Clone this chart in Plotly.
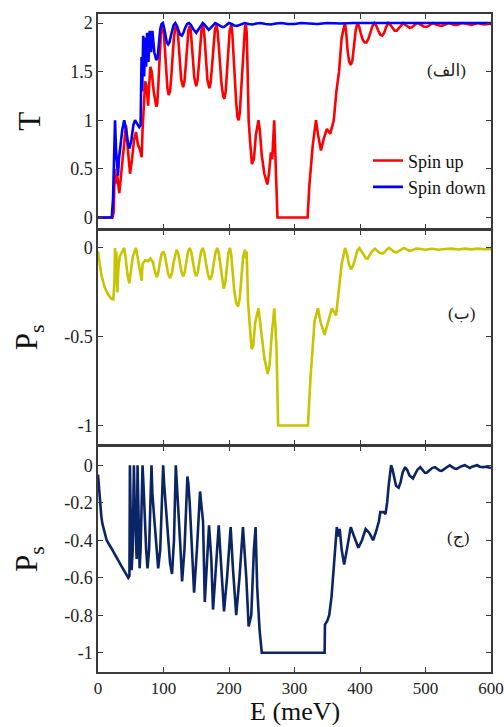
import plotly.graph_objects as go

# ---------------- data ----------------
E_up = [0, 22, 24, 25.5, 27, 29, 32.5, 36, 40, 42.7, 45, 48.9, 52, 55, 58, 61, 64, 66.7, 68, 70, 72, 74, 76.5, 78, 80, 82, 85, 89,
        90.5, 92, 94, 96, 97.5, 99, 100.5, 102, 104, 106, 108, 110, 112, 114, 116, 118.5, 120, 121.5, 123, 125, 127, 130,
        132, 134, 136, 138, 140, 141.5, 143, 145, 147, 150, 152, 154, 156, 158, 160, 161.5, 163, 165, 167, 170,
        172, 174, 176, 178.5, 181, 182.5, 184, 186, 188.5, 191, 193, 195, 197, 199, 201, 203.5, 205, 206.5, 208.5, 211,
        213, 214.7, 216.5, 218.5, 220.5, 222.5, 224.5, 226, 227, 228.5, 230, 232, 235, 238, 241, 245, 247, 250, 254,
        258.5, 261, 264, 266, 269, 271, 273, 274, 320, 322.7, 327.8, 332.8, 336, 340.4, 345, 349.5, 354.5, 360, 364,
        368, 372, 375, 377, 379, 381, 383.5, 386, 388.5, 391, 393.5, 396, 398.5, 401, 404, 407, 410, 413, 416, 419,
        422, 425, 428, 431, 434, 437, 440, 443, 446.5, 450, 453, 456, 459.5, 463, 466, 469.5, 473, 476, 479, 482.5,
        486, 489, 493, 497, 501, 505, 509, 512, 516, 520, 524, 528, 532, 536, 540, 544, 548, 552, 556, 560, 565, 570,
        575, 580, 585, 590, 595, 600]
T_up = [0, 0, 0.05, 0.5, 0.35, 0.45, 0.25, 0.5, 0.8, 0.95, 0.75, 0.45, 0.6, 0.8, 0.88, 0.75, 0.7, 0.62, 0.9, 1.25, 1.4, 1.35, 1.15, 1.35, 1.55, 1.5, 1.3, 1.14,
        1.17, 1.35, 1.65, 1.88, 1.96, 1.97, 1.9, 1.72, 1.5, 1.33, 1.26, 1.3, 1.46, 1.68, 1.86, 1.96, 1.98, 1.94, 1.8, 1.58, 1.42, 1.34,
        1.4, 1.56, 1.76, 1.92, 1.97, 1.93, 1.8, 1.6, 1.44, 1.35, 1.41, 1.57, 1.78, 1.93, 1.98, 1.94, 1.82, 1.6, 1.42, 1.33,
        1.39, 1.55, 1.76, 1.93, 1.98, 1.92, 1.8, 1.58, 1.38, 1.25, 1.22, 1.3, 1.5, 1.75, 1.92, 1.98, 1.9, 1.72, 1.45, 1.18,
        1.03, 1.0, 1.08, 1.3, 1.6, 1.85, 1.97, 1.98, 1.9, 1.5, 1.0, 0.8, 0.55, 0.6, 0.85, 1.0, 0.9, 0.64, 0.45,
        0.34, 0.45, 0.67, 0.6, 1.0, 0.6, 0.3, 0, 0, 0.33, 0.74, 1.0, 0.85, 0.69, 0.82, 0.91, 0.86, 1.0, 1.3,
        1.5, 1.85, 1.95, 2.0, 1.9, 1.72, 1.6, 1.57, 1.62, 1.78, 1.93, 2.0, 1.97, 1.9, 1.83, 1.8, 1.8, 1.84, 1.91, 1.97,
        2.0, 1.97, 1.92, 1.88, 1.87, 1.9, 1.96, 2.0, 1.98, 1.94, 1.92, 1.92, 1.95, 1.98, 2.0, 1.98, 1.96, 1.95, 1.955, 1.975,
        1.995, 2.0, 1.985, 1.965, 1.96, 1.97, 1.99, 2.0, 1.985, 1.975, 1.97, 1.98, 1.99, 2.0, 1.99, 1.98, 1.98, 1.99, 2.0, 1.995, 1.985, 1.98,
        1.99, 2.0, 1.99, 1.985, 1.99, 1.99]

E_down = [0, 21, 23, 24.5, 26, 27.5, 29, 30.5, 32, 34, 37, 40, 43, 46, 48, 51, 54, 56.5, 60, 63, 65, 66.5, 67.5, 69, 70.5, 72, 73.5, 75, 77, 79, 81, 83, 86,
          89, 91, 93, 95, 97, 99, 101, 103, 105, 107, 109, 111, 113, 115.5, 118, 120.5, 123, 125.5, 128, 130.5, 133, 136, 139, 142, 145, 148,
          150, 153, 156.5, 160, 163, 166, 169, 172, 175.5, 179, 182, 185.5, 189, 192.5, 196, 200, 204, 208, 212, 216, 220, 224, 230, 236,
          242, 248, 256, 264, 272, 280, 290, 300, 310, 320, 335, 350, 370, 390, 420, 500, 600]
T_down = [0, 0, 0.2, 0.6, 1.0, 0.7, 0.55, 0.43, 0.6, 0.72, 0.9, 1.0, 0.9, 0.75, 0.71, 0.8, 0.95, 1.0, 0.96, 0.93, 0.95, 1.65, 1.3, 1.87, 1.45, 1.85, 1.55, 1.9, 1.6, 1.92, 1.7, 1.92, 1.7,
          1.62, 1.64, 1.8, 1.94, 1.99, 2.0, 1.95, 1.87, 1.8, 1.78, 1.8, 1.86, 1.93, 1.98, 2.0, 1.97, 1.92, 1.88, 1.87, 1.9, 1.95, 1.99, 2.0, 1.98, 1.94, 1.91,
          1.9, 1.93, 1.97, 2.0, 1.98, 1.95, 1.93, 1.95, 1.98, 2.0, 1.99, 1.97, 1.96, 1.96, 1.98, 2.0, 1.99, 1.975, 1.97, 1.98, 1.995, 2.0, 1.99, 1.985,
          1.995, 2.0, 1.99, 1.985, 1.995, 2.0, 1.99, 1.99, 2.0, 1.995, 1.99, 2.0, 1.995, 2.0, 2.0, 2.0, 2.0]

E_b = [0, 2, 5, 10, 15, 20, 23.4, 25, 26, 27, 28, 29.5, 31, 33, 36, 40, 42, 45, 47.8, 50, 53, 58, 61, 64, 66.7, 68, 72, 76, 80, 84, 86,
       89.6, 92, 94.5, 97, 99.7, 102, 104.5, 107, 110, 113, 115.5, 118, 120, 122.5, 125, 127.5, 130, 132.5, 135, 137.5, 140,
       142.5, 145, 147.5, 150, 152.5, 155, 157.5, 160, 162.5, 165, 168, 171, 174, 177, 179.5, 182, 184.5, 187, 189.5, 192,
       194.5, 197, 199, 201.5, 203.5, 205.5, 208, 211, 214, 216.5, 219, 221.5, 224.4, 226, 227, 229, 232, 234.6, 237, 240,
       245, 247, 250, 254, 259, 262, 265, 269, 271, 272.6, 275, 320.5, 324.6, 330.7, 335.8, 340, 345.9, 351, 357, 363.5,
       368.6, 372, 377.2, 380, 383, 386.4, 389.5, 393, 396, 399, 402.5, 406, 409, 411.6, 414.5, 418, 422.7, 426, 430, 434.3,
       438, 441, 444.4, 448, 452, 456, 460, 463.5, 467, 471, 475, 478, 482, 486, 490, 500, 510, 520, 530, 540, 550, 560,
       570, 580, 590, 600]
P_b = [-0.02, -0.08, -0.15, -0.22, -0.26, -0.285, -0.29, -0.2, 0.0, -0.15, -0.02, -0.25, -0.12, -0.05, -0.03, 0.0, -0.05, -0.15, -0.2, -0.12, -0.05, 0.0, -0.06, -0.12, -0.185, -0.09, -0.07, -0.075, -0.06, -0.08, -0.12,
       -0.165, -0.14, -0.08, -0.035, -0.02, -0.04, -0.09, -0.145, -0.17, -0.14, -0.08, -0.03, -0.01, -0.03, -0.08, -0.135, -0.16, -0.135, -0.075, -0.02, 0.0,
       -0.025, -0.08, -0.135, -0.16, -0.135, -0.07, -0.02, 0.0, -0.03, -0.09, -0.15, -0.18, -0.15, -0.08, -0.025, 0.0, -0.03, -0.1, -0.18, -0.23,
       -0.19, -0.1, -0.03, 0.0, -0.04, -0.13, -0.24, -0.31, -0.33, -0.28, -0.16, -0.05, -0.01, -0.06, -0.02, -0.3, -0.45, -0.57, -0.55, -0.42,
       -0.34, -0.4, -0.5, -0.62, -0.71, -0.66, -0.5, -0.34, -0.45, -0.57, -1.0, -1.0, -0.72, -0.41, -0.34, -0.42, -0.49, -0.42, -0.34, -0.38,
       -0.2, -0.09, 0.0, -0.03, -0.09, -0.12, -0.1, -0.05, -0.015, 0.0, -0.02, -0.045, -0.058, -0.06, -0.045, -0.02, -0.005, -0.015, -0.028, -0.032,
       -0.022, -0.008, 0.0, -0.01, -0.022, -0.025, -0.015, -0.005, 0.0, -0.008, -0.015, -0.015, -0.008, -0.003, -0.005, -0.01, -0.005, -0.01, -0.006, -0.004, -0.009, -0.004,
       -0.008, -0.004, -0.007, -0.005]

E_c = [0, 1.5, 3, 5, 6.6, 10, 13.2, 20, 26, 36, 46.2, 48, 48.7, 50, 51.3, 53, 54.8, 56, 57.4, 59, 60.4, 62, 63.5, 65, 68, 70, 71.6, 73.5, 75.6, 78, 81.7, 83, 85.8, 89, 91.9, 95, 99.5, 101, 103.6, 107, 110, 113, 116, 118.8, 121, 123.4, 126, 128.4, 132, 136.5, 138, 140, 143, 146.7, 151, 155.8, 158, 160.4, 163, 166, 169.5, 173, 175.6, 179, 184.3, 188.3, 192.4, 197, 202.5, 206, 211, 216, 221.3, 226.4, 230, 234, 238, 240.6, 243, 246.7, 248, 250, 346, 346.5, 350, 353, 356.6, 360.6, 364.6, 367, 369, 372, 375.8, 380, 385.9, 391, 397.5, 403, 408.6, 414, 420, 424, 428.8, 431, 436, 438.9, 441.4, 444,
       447.5, 449.5, 452, 455, 459, 462, 465, 469, 472, 475.5, 480.8, 484, 487.5, 492, 495.5, 499, 502, 506, 510, 514.6, 518, 521.5, 524.7, 529, 533, 537, 541, 544.5, 547.5, 551, 555, 560, 564, 567.7, 571, 575, 578.8, 583, 588, 593, 600]
P_c = [-0.05, -0.12, -0.2, -0.27, -0.31, -0.36, -0.4, -0.44, -0.48, -0.54, -0.6, -0.59, 0.0, -0.3, -0.56, -0.45, 0.0, -0.2, -0.4, -0.5, 0.0, -0.3, -0.55, -0.45, 0.0, -0.15, -0.33, -0.45, -0.55, -0.45, 0.0, -0.15, -0.28, -0.45, -0.55, -0.45, 0.0, -0.1, -0.22, -0.4, -0.52, -0.58, -0.4, 0.0, -0.12, -0.27, -0.45, -0.62, -0.45, -0.06, -0.1, -0.2, -0.45, -0.68, -0.45, -0.14, -0.22, -0.3, -0.73, -0.55, -0.32, -0.5, -0.77, -0.6, -0.32, -0.55, -0.78, -0.6, -0.33, -0.55, -0.8, -0.6, -0.33, -0.6, -0.86, -0.8, -0.45, -0.33, -0.65, -0.88, -0.93, -1.0, -1.0, -0.85, -0.83, -0.8, -0.7, -0.5, -0.33, -0.38, -0.34, -0.45, -0.53, -0.45, -0.33, -0.38, -0.44, -0.4, -0.34, -0.36, -0.4, -0.36, -0.3, -0.25, -0.25, -0.26, -0.2, -0.1,
       0.0, -0.02, -0.07, -0.11, -0.12, -0.09, -0.04, -0.01, -0.025, -0.055, -0.07, -0.05, -0.025, -0.01, -0.025, -0.04, -0.04, -0.028, -0.015, -0.01, -0.018, -0.028, -0.03, -0.02, -0.008, 0.0, -0.01, -0.018, -0.02, -0.013, -0.005, 0.0, -0.01, -0.015, -0.008, -0.002, 0.0, -0.008, -0.01, -0.008, -0.015]

x_ticks = [0, 100, 200, 300, 400, 500, 600]
y1_ticks = [0, 0.5, 1, 1.5, 2]
y1_text = ["0", "0.5", "1", "1.5", "2"]
y2_ticks = [0, -0.5, -1]
y2_text = ["0", "-0.5", "-1"]
y3_ticks = [0, -0.2, -0.4, -0.6, -0.8, -1]
y3_text = ["0", "-0.2", "-0.4", "-0.6", "-0.8", "-1"]
panel_labels = ["(الف)", "(ب)", "(ج)"]
legend_names = ["Spin up", "Spin down"]
x_title = "E (meV)"

# ---------------- figure ----------------
SERIF = "Liberation Serif, DejaVu Sans, serif"
AX = "#3a3a3a"
LW = 2.6

fig = go.Figure()
fig.add_trace(go.Scatter(x=E_up, y=T_up, mode="lines", name=legend_names[0],
                         line=dict(color="#ff0000", width=LW), xaxis="x", yaxis="y"))
fig.add_trace(go.Scatter(x=E_down, y=T_down, mode="lines", name=legend_names[1],
                         line=dict(color="#0000ff", width=LW), xaxis="x", yaxis="y"))
fig.add_trace(go.Scatter(x=E_b, y=P_b, mode="lines", showlegend=False,
                         line=dict(color="#c8c400", width=LW), xaxis="x2", yaxis="y2"))
fig.add_trace(go.Scatter(x=E_c, y=P_c, mode="lines", showlegend=False,
                         line=dict(color="#0b2466", width=LW), xaxis="x3", yaxis="y3"))

common_x = dict(range=[0, 600], tickvals=x_ticks, ticks="inside", ticklen=5,
                tickcolor=AX, showline=True, linecolor=AX, linewidth=1.5,
                mirror="ticks", showgrid=False, zeroline=False, automargin=False,
                tickfont=dict(family=SERIF, size=17, color="#222"))
common_y = dict(ticks="inside", ticklen=5, tickcolor=AX, showline=True,
                linecolor=AX, linewidth=1.5, mirror="ticks", showgrid=False,
                zeroline=False, automargin=False,
                tickfont=dict(family=SERIF, size=18, color="#222"))

gap = 1.5 / 658.0
d1 = [0.674, 1.0]
d2 = [0.3457, 0.674 - gap]
d3 = [0.0, 0.3457 - gap]

fig.update_layout(
    width=504, height=727,
    margin=dict(l=98, r=13, t=14, b=55, autoexpand=False),
    paper_bgcolor="white", plot_bgcolor="white",
    xaxis=dict(common_x, anchor="y", showticklabels=False),
    xaxis2=dict(common_x, anchor="y2", showticklabels=False, matches="x"),
    xaxis3=dict(common_x, anchor="y3", matches="x", ticklabeloverflow="allow"),
    yaxis=dict(common_y, domain=d1, range=[-0.113, 2.093], tickvals=y1_ticks,
               ticktext=y1_text, anchor="x",
               title=dict(text="T", font=dict(family=SERIF, size=31, color="#111"),
                          standoff=20)),
    yaxis2=dict(common_y, domain=d2, range=[-1.107, 0.101], tickvals=y2_ticks,
                ticktext=y2_text, anchor="x2",
                title=dict(text="P<sub>s</sub>", font=dict(family=SERIF, size=31, color="#111"),
                           standoff=17)),
    yaxis3=dict(common_y, domain=d3, range=[-1.103, 0.1025], tickvals=y3_ticks,
                ticktext=y3_text, anchor="x3",
                title=dict(text="P<sub>s</sub>", font=dict(family=SERIF, size=31, color="#111"),
                           standoff=17)),
    legend=dict(x=1.0, y=0.805, xanchor="right", yanchor="top",
                bgcolor="rgba(0,0,0,0)", borderwidth=0,
                font=dict(family=SERIF, size=18, color="#111"),
                tracegroupgap=0, itemwidth=30),
    showlegend=True,
)

# x-axis title (placed as paper annotation below the bottom panel)
fig.add_annotation(text=x_title, xref="paper", yref="paper", x=0.5, y=(672 - 727) / 658.0,
                   xanchor="center", yanchor="bottom", showarrow=False, borderpad=0,
                   font=dict(family=SERIF, size=26, color="#111"))

label_pos = [(446, 70, "y domain"), (461, 313, "y2 domain"), (458, 538, "y3 domain")]
doms = [(14, 228.5), (230, 444.5), (446, 672)]
for i, lab in enumerate(panel_labels):
    px, py = label_pos[i][0], label_pos[i][1]
    top, bot = doms[i]
    fig.add_annotation(text=lab, xref="paper", yref=label_pos[i][2],
                       x=(px - 98) / 393.0, y=(bot - py) / (bot - top),
                       xanchor="center", yanchor="middle", showarrow=False,
                       font=dict(family=SERIF, size=17, color="#222"))

fig.write_html("out.html")
